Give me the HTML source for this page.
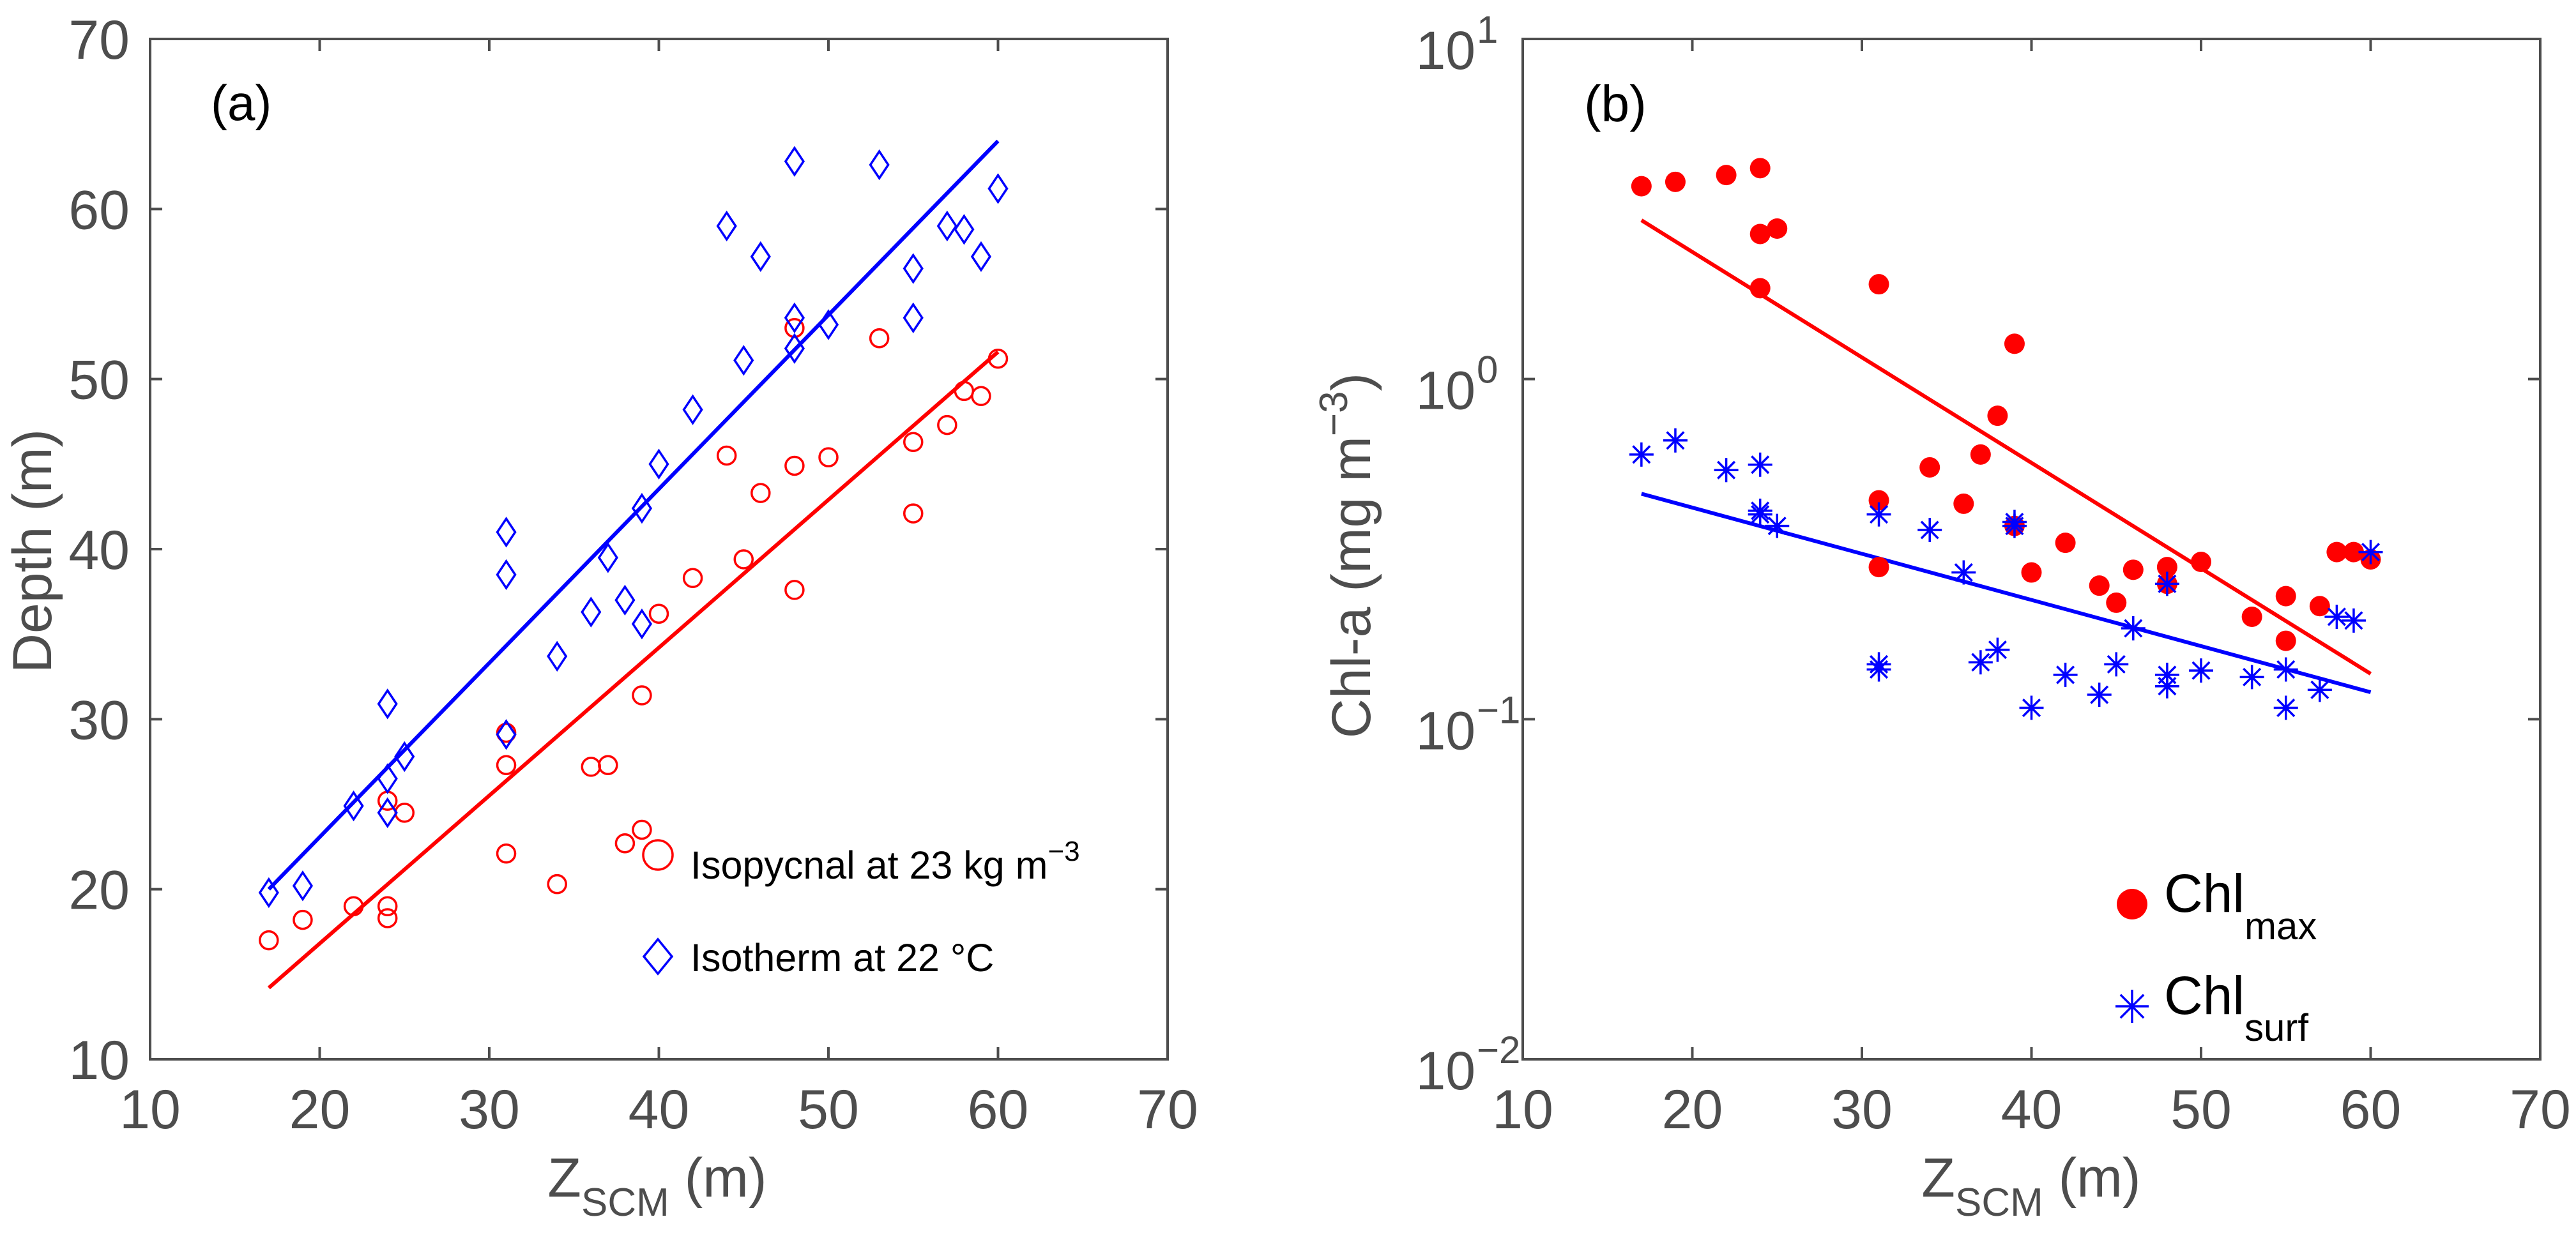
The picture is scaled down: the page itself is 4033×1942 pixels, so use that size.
<!DOCTYPE html>
<html><head><meta charset="utf-8"><style>html,body{margin:0;padding:0;background:#fff}svg{display:block}</style></head>
<body>
<svg id="fig" width="4033" height="1942" viewBox="0 0 4033 1942" xmlns="http://www.w3.org/2000/svg" font-family="Liberation Sans, Arial, sans-serif">
<g id="pa"></g>
<g id="pb"></g>
</svg>
<script>
// Panel (a) data
const aX = [17,19,22,24,24,24,25,31,31,31,34,36,37,38,39,39,40,42,44,45,46,48,48,48,50,53,55,55,57,58,59,60];
const aIsopycnal = [17,18.2,19,25.2,19,18.3,24.5,29.2,27.3,22.1,20.3,27.2,27.3,22.7,23.5,31.4,36.2,38.3,45.5,39.4,43.3,53,44.9,37.6,45.4,52.4,46.3,42.1,47.3,49.3,49,51.2];
const aIsotherm = [19.8,20.2,24.9,30.9,26.5,24.5,27.8,41,38.5,29.1,33.7,36.3,39.5,37,42.4,35.6,45,48.2,59,51.1,57.2,62.8,53.6,51.8,53.2,62.6,56.5,53.6,59,58.8,57.2,61.2];
const aFitX = [17,60];
const aFitIsopycnal = [14.2,51.6];
const aFitIsotherm = [20,64];
const aXTicks = [10,20,30,40,50,60,70];
const aYTicks = [10,20,30,40,50,60,70];
// Panel (b) data
const bXmax = [17,19,22,24,24,25,24,31,39,38,37,34,36,31,31,39,42,40,44,45,46,48,48,50,53,55,55,57,58,59,60];
const bChlMax = [3.69,3.8,3.98,4.17,2.67,2.77,1.85,1.9,1.27,0.78,0.6,0.55,0.43,0.44,0.28,0.37,0.33,0.27,0.247,0.22,0.275,0.28,0.25,0.29,0.2,0.23,0.17,0.215,0.31,0.31,0.295];
const bXsurf = [17,19,22,24,24,25,24,31,31,31,34,36,37,38,39,39,40,42,44,45,46,48,48,48,50,53,55,55,57,58,59,60];
const bChlSurf = [0.6,0.66,0.54,0.56,0.41,0.37,0.4,0.4,0.145,0.14,0.36,0.27,0.147,0.16,0.37,0.38,0.108,0.135,0.118,0.145,0.185,0.25,0.135,0.125,0.139,0.133,0.14,0.108,0.122,0.2,0.195,0.31];
const bFitX = [17,60];
const bFitMax = [2.93,0.136];
const bFitSurf = [0.46,0.12];
const bXTicks = [10,20,30,40,50,60,70];
const bYExp = [-2,-1,0,1];

const NS='http://www.w3.org/2000/svg';
const AX='#4d4d4d', TXT='#4d4d4d';
function mk(parent,tag,attrs){const e=document.createElementNS(NS,tag);for(const k in attrs)e.setAttribute(k,attrs[k]);parent.appendChild(e);return e;}

const TOP=61, BOT=1659;
const aL=235,aR=1828;
const axA=v=>aL+(v-10)/60*(aR-aL);
const ayA=v=>BOT-(v-10)/60*(BOT-TOP);
const bL=2384,bR=3977;
const axB=v=>bL+(v-10)/60*(bR-bL);
const ayB=v=>BOT-(Math.log10(v)+2)/3*(BOT-TOP);

function frame(g,L,R,name){
  const r=mk(g,'rect',{x:L,y:TOP,width:R-L,height:BOT-TOP,fill:'none',stroke:AX,'stroke-width':4});
  
  
}
function tick(g,x1,y1,x2,y2){const t=mk(g,'line',{x1,y1,x2,y2,stroke:AX,'stroke-width':4});
  
  }
function circ(g,cx,cy,r,fill,stroke,name){const c=mk(g,'circle',{cx,cy,r,fill,stroke,'stroke-width':3.5});
  
  return c;}
function diamond(g,cx,cy,w,h,name){const p=mk(g,'polygon',{points:`${cx},${cy-h} ${cx+w},${cy} ${cx},${cy+h} ${cx-w},${cy}`,fill:'none',stroke:'#0000ff','stroke-width':3.5});
  
  }
function star(g,cx,cy,s,name){const p=mk(g,'path',{d:`M${cx-s},${cy}H${cx+s}M${cx},${cy-s}V${cy+s}M${cx-s*0.7},${cy-s*0.7}L${cx+s*0.7},${cy+s*0.7}M${cx-s*0.7},${cy+s*0.7}L${cx+s*0.7},${cy-s*0.7}`,stroke:'#0000ff','stroke-width':3.5,fill:'none'});
  
  }
function txt(g,x,y,s,size,anchor,name){const t=mk(g,'text',{x,y,'font-size':size,'text-anchor':anchor,fill:TXT});t.textContent=s;
  
  return t;}

// ---------- Panel a ----------
const ga=document.getElementById('pa');
frame(ga,aL,aR,'panel-a');
aXTicks.forEach(v=>{const x=axA(v);tick(ga,x,BOT,x,BOT-19);tick(ga,x,TOP,x,TOP+19);
  txt(ga,x,1767,String(v),86,'middle','x-tick-label');});
aYTicks.forEach(v=>{const y=ayA(v);tick(ga,aL,y,aL+19,y);tick(ga,aR,y,aR-19,y);
  txt(ga,203,y+31,String(v),86,'end','y-tick-label');});
const fa1=mk(ga,'line',{x1:axA(aFitX[0]),y1:ayA(aFitIsotherm[0]),x2:axA(aFitX[1]),y2:ayA(aFitIsotherm[1]),stroke:'#0000ff','stroke-width':6});


const fa2=mk(ga,'line',{x1:axA(aFitX[0]),y1:ayA(aFitIsopycnal[0]),x2:axA(aFitX[1]),y2:ayA(aFitIsopycnal[1]),stroke:'#ff0000','stroke-width':6});


aX.forEach((x,i)=>circ(ga,axA(x),ayA(aIsopycnal[i]),14,'none','#ff0000','isopycnal-point'));
aX.forEach((x,i)=>diamond(ga,axA(x),ayA(aIsotherm[i]),14,21,'isotherm-point'));
txt(ga,330,188,'(a)',78,'start','panel-a-label').setAttribute('fill','#000');
// legend a
circ(ga,1030,1339,23,'none','#ff0000','legend-isopycnal-marker');
const la=txt(ga,1081,1376,'Isopycnal at 23 kg m',61,'start','legend-isopycnal-label');la.setAttribute('fill','#000');
const sup=mk(la,'tspan',{dy:-28,'font-size':44});sup.textContent='−3';
diamond(ga,1030,1498,22,27,'legend-isotherm-marker');
txt(ga,1081,1521,'Isotherm at 22 °C',61,'start','legend-isotherm-label').setAttribute('fill','#000');
// axis titles a
const xta=txt(ga,1029,1874,'Z',86,'middle','x-axis-title-a');
const s1=mk(xta,'tspan',{dy:30,'font-size':62});s1.textContent='SCM';
const s2=mk(xta,'tspan',{dy:-30});s2.textContent=' (m)';
const yta=txt(ga,0,0,'Depth (m)',86,'middle','y-axis-title-a');
yta.setAttribute('transform','translate(80,863) rotate(-90)');

// ---------- Panel b ----------
const gb=document.getElementById('pb');
frame(gb,bL,bR,'panel-b');
bXTicks.forEach(v=>{const x=axB(v);tick(gb,x,BOT,x,BOT-19);tick(gb,x,TOP,x,TOP+19);
  txt(gb,x,1767,String(v),86,'middle','x-tick-label');});
bYExp.forEach(e=>{const y=ayB(Math.pow(10,e));tick(gb,bL,y,bL+19,y);tick(gb,bR,y,bR-19,y);
  txt(gb,2310,y+47,'10',84,'end','y-tick-label');
  txt(gb,2312,y+6,e<0?'−'+(-e):String(e),60,'start','y-tick-exponent');});
const fb1=mk(gb,'line',{x1:axB(bFitX[0]),y1:ayB(bFitMax[0]),x2:axB(bFitX[1]),y2:ayB(bFitMax[1]),stroke:'#ff0000','stroke-width':6});


const fb2=mk(gb,'line',{x1:axB(bFitX[0]),y1:ayB(bFitSurf[0]),x2:axB(bFitX[1]),y2:ayB(bFitSurf[1]),stroke:'#0000ff','stroke-width':6});


bXmax.forEach((x,i)=>circ(gb,axB(x),ayB(bChlMax[i]),16,'#ff0000','none','chl-max-point'));
bXsurf.forEach((x,i)=>star(gb,axB(x),ayB(bChlSurf[i]),19,'chl-surf-point'));
txt(gb,2480,190,'(b)',80,'start','panel-b-label').setAttribute('fill','#000');
// legend b
circ(gb,3338,1416,24,'#ff0000','none','legend-chl-max-marker');
const lb1=txt(gb,3388,1428,'Chl',84,'start','legend-chl-max-label');lb1.setAttribute('fill','#000');
const lb1s=mk(lb1,'tspan',{dy:43,'font-size':60});lb1s.textContent='max';
star(gb,3338,1576,26,'legend-chl-surf-marker');
const lb2=txt(gb,3388,1588,'Chl',84,'start','legend-chl-surf-label');lb2.setAttribute('fill','#000');
const lb2s=mk(lb2,'tspan',{dy:42,'font-size':60});lb2s.textContent='surf';
// axis titles b
const xtb=txt(gb,3180,1874,'Z',86,'middle','x-axis-title-b');
const t1=mk(xtb,'tspan',{dy:30,'font-size':62});t1.textContent='SCM';
const t2=mk(xtb,'tspan',{dy:-30});t2.textContent=' (m)';
const ytb=txt(gb,0,0,'Chl-a (mg m',86,'middle','y-axis-title-b');
const ys=mk(ytb,'tspan',{dy:-36,'font-size':62});ys.textContent='−3';
const ye=mk(ytb,'tspan',{dy:36});ye.textContent=')';
ytb.setAttribute('transform','translate(2145,870) rotate(-90)');
</script>
</body></html>
